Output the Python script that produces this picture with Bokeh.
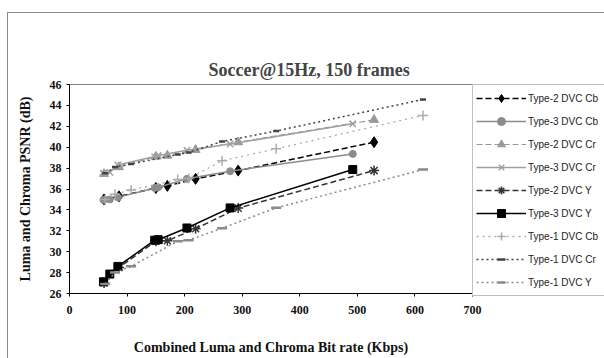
from bokeh.plotting import figure
from bokeh.models import Range1d, FixedTicker, Legend, LegendItem, Title
from bokeh.embed import file_html
from bokeh.resources import INLINE

# ---------------- data ----------------
title_text = "Soccer@15Hz, 150 frames"
x_label = "Combined Luma and Chroma Bit rate (Kbps)"
y_label = "Luma and Chroma PSNR (dB)"
x_ticks = [0, 100, 200, 300, 400, 500, 600, 700]
y_ticks = [26, 28, 30, 32, 34, 36, 38, 40, 42, 44, 46]

# combined bit rates (Kbps) per codec
type1_rate = [62, 79, 107, 188, 207, 265, 359, 614]
type2_rate = [60, 86, 150, 170, 219, 293, 529]
type3_rate = [59, 70, 84, 148, 154, 204, 279, 492]

type2_cb = [35.0, 35.3, 36.1, 36.3, 36.97, 37.76, 40.48]
type3_cb = [34.95, 35.0, 35.2, 36.1, 36.16, 36.97, 37.7, 39.36]
type2_cr = [37.45, 38.1, 39.1, 39.2, 39.75, 40.48, 42.62]
type3_cr = [37.5, 37.6, 38.3, 39.1, 39.2, 39.7, 40.3, 42.24]
type2_y = [27.0, 28.5, 31.0, 31.05, 32.2, 34.17, 37.76]
type3_y = [27.12, 27.86, 28.59, 31.1, 31.15, 32.27, 34.19, 37.86]
type1_cb = [35.0, 35.5, 35.9, 36.9, 37.0, 38.7, 39.85, 43.04]
type1_cr = [37.5, 38.1, 38.4, 39.3, 39.5, 40.55, 41.55, 44.57]
type1_y = [26.9, 28.0, 28.6, 31.0, 31.1, 32.25, 34.2, 37.86]

series_names = ["Type-2 DVC Cb", "Type-3 DVC Cb", "Type-2 DVC Cr", "Type-3 DVC Cr",
                "Type-2 DVC Y", "Type-3 DVC Y", "Type-1 DVC Cb", "Type-1 DVC Cr",
                "Type-1 DVC Y"]

series = [
    (type2_rate, type2_cb),
    (type3_rate, type3_cb),
    (type2_rate, type2_cr),
    (type3_rate, type3_cr),
    (type2_rate, type2_y),
    (type3_rate, type3_y),
    (type1_rate, type1_cb),
    (type1_rate, type1_cr),
    (type1_rate, type1_y),
]

# styles: (line colour, dash, line width, marker, marker size, marker line width)
styles = [
    ("#000000", "6 3", 1.5, "diamond", 11, 1),
    ("#8c8c8c", "solid", 1.5, "circle", 7, 1),
    ("#999999", "6 3", 1.2, "triangle", 9, 1),
    ("#a0a0a0", "solid", 1.5, "x", 9, 1.5),
    ("#333333", "6 3", 1.5, "asterisk", 10, 1.5),
    ("#000000", "solid", 1.5, "square", 8, 1),
    ("#ababab", "2 4", 1.3, "cross", 10, 1.5),
    ("#444444", "2 3", 1.5, "dash", 6, 2.5),
    ("#8a8a8a", "2 3", 1.5, "dash", 10, 2.5),
]

p = figure(frame_width=403, frame_height=209, output_backend="svg",
           toolbar_location=None, title=None,
           x_range=Range1d(0, 700), y_range=Range1d(26, 46),
           min_border_left=69, min_border_right=132, min_border_top=84,
           min_border_bottom=65)

p.background_fill_color = "white"
p.border_fill_color = None
# outer chart-area border (only its top and left edges are inside the picture)
p.styles = {
    "background": "linear-gradient(#8a8a8a, #8a8a8a) 7px 12px / 1px 100% no-repeat, "
                  "linear-gradient(#8a8a8a, #8a8a8a) 7px 12px / 100% 1px no-repeat, "
                  "#ffffff"
}
p.outline_line_color = "#808080"
p.xgrid.visible = False
p.ygrid.visible = False

# invisible spacer panel next to the frame (first "above" item is closest),
# then the real title above it
spacer = Title(text=".", text_font_size="10px", text_alpha=0, standoff=19)
p.add_layout(spacer, "above")
main_title = Title(text=title_text, text_font="Liberation Serif",
                   text_font_size="18px", text_font_style="bold",
                   align="left", offset=139, standoff=10)
p.add_layout(main_title, "above")

for ax in (p.xaxis[0], p.yaxis[0]):
    ax.axis_line_color = "#000000"
    ax.major_tick_line_color = "#000000"
    ax.minor_tick_line_color = None
    ax.major_tick_in = 0
    ax.major_tick_out = 3
    ax.major_label_text_font = "Liberation Serif"
    ax.major_label_text_font_size = "12px"
    ax.major_label_text_font_style = "bold"
    ax.major_label_text_color = "#111111"
    ax.axis_label_text_font = "Liberation Serif"
    ax.axis_label_text_font_size = "14px"
    ax.axis_label_text_font_style = "bold"
    ax.axis_label_text_color = "#111111"

p.xaxis.ticker = FixedTicker(ticks=x_ticks)
p.yaxis.ticker = FixedTicker(ticks=y_ticks)
p.xaxis.axis_label = x_label
p.yaxis.axis_label = y_label
p.xaxis.major_label_standoff = 9
p.xaxis.axis_label_standoff = 23
p.yaxis.major_label_standoff = 5
p.yaxis.axis_label_standoff = 14

items = []
for name, (xs, ys), (col, dash, lw, mk, ms, mlw) in zip(series_names, series, styles):
    lr = p.line(xs, ys, line_color=col, line_dash=dash, line_width=lw)
    sr = p.scatter(xs, ys, marker=mk, size=ms, fill_color=col, line_color=col,
                   line_width=mlw)
    items.append(LegendItem(label=name, renderers=[lr, sr]))

legend = Legend(items=items, location="top_left", margin=0, padding=3,
                spacing=3, label_height=20, glyph_width=50, glyph_height=20,
                label_standoff=2, label_width=100, label_text_font="Liberation Sans",
                label_text_font_size="10px", label_text_color="#222222",
                border_line_color="#808080", border_line_width=1,
                background_fill_color="white", background_fill_alpha=1)
p.add_layout(legend, "right")

open("out.html", "w").write(file_html(p, INLINE))
